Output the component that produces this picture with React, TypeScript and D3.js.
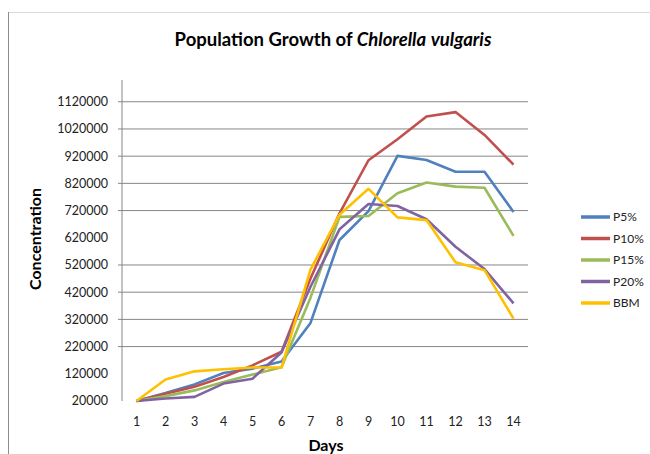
import React from 'react';
import * as d3 from 'd3';

const days = ['1', '2', '3', '4', '5', '6', '7', '8', '9', '10', '11', '12', '13', '14'];
const seriesNames = ['P5%', 'P10%', 'P15%', 'P20%', 'BBM'];
const p5 = [20000, 49000, 81000, 123000, 139000, 165000, 307000, 612000, 718000, 921000, 906000, 863000, 863000, 715000];
const p10 = [20000, 47000, 72000, 108000, 151000, 201000, 470000, 710000, 905000, 982000, 1066000, 1082000, 998000, 889000];
const p15 = [20000, 38000, 59000, 90000, 117000, 144000, 400000, 697000, 700000, 784000, 823000, 808000, 804000, 627000];
const p20 = [20000, 29000, 35000, 84000, 102000, 198000, 440000, 651000, 744000, 737000, 688000, 587000, 505000, 379000];
const bbm = [20000, 99000, 129000, 137000, 143000, 143000, 503000, 705000, 800000, 695000, 685000, 530000, 501000, 323000];
const yTicks = [20000, 120000, 220000, 320000, 420000, 520000, 620000, 720000, 820000, 920000, 1020000, 1120000];
// gridlines that don't show up in the original
const hiddenGrid = [20000, 120000, 620000];
const colors = ['#4F81BD', '#C0504D', '#9BBB59', '#8064A2', '#FFC000'];

const W = 650;
const H = 454;
const plot = { left: 122, right: 528, top: 80, bottom: 401 };
const font = 'Lato, "Open Sans", sans-serif';

export default function App() {
  const allSeries = [p5, p10, p15, p20, bbm];

  const x = d3.scaleBand().domain(days).range([plot.left, plot.right]);
  const y = d3.scaleLinear().domain([20000, 1200000]).range([plot.bottom, plot.top]);

  const line = d3
    .line<number>()
    .x((_d, i) => (x(days[i]) || 0) + x.bandwidth() / 2)
    .y((d) => y(d));

  const legendY = d3.scalePoint().domain(seriesNames).range([217, 303]);

  return (
    <svg
      width={W}
      height={H}
      style={{ position: 'absolute', left: 0, top: 0, background: '#fff' }}
      fontFamily={font}
    >
      {/* chart frame */}
      <line x1={8} x2={W} y1={12.5} y2={12.5} stroke="#d9d9d9" />
      <line x1={8.5} x2={8.5} y1={12} y2={H} stroke="#8c8c8c" />

      <text x={333} y={46} textAnchor="middle" fontSize={18.5} fontWeight="bold" fill="#000">
        Population Growth of <tspan fontStyle="italic">Chlorella</tspan>{' '}
        <tspan fontStyle="italic">vulgaris</tspan>
      </text>

      {/* grid + y axis */}
      {yTicks
        .filter((t) => !hiddenGrid.includes(t))
        .map((t) => (
          <line key={t} x1={118} x2={plot.right} y1={y(t)} y2={y(t)} stroke="#868686" strokeWidth={1} />
        ))}
      <line x1={plot.left} x2={plot.left} y1={plot.top} y2={plot.bottom} stroke="#868686" />
      {yTicks.map((t) => (
        <text key={t} x={108} y={y(t)} dy="0.35em" textAnchor="end" fontSize={12.5} fill="#222">
          {t}
        </text>
      ))}

      {/* x labels */}
      {days.map((d) => (
        <text key={d} x={(x(d) || 0) + x.bandwidth() / 2} y={422} dy="0.35em" textAnchor="middle" fontSize={12.5} fill="#222">
          {d}
        </text>
      ))}

      <text x={326} y={445} dy="0.35em" textAnchor="middle" fontSize={16} fontWeight="bold">
        Days
      </text>
      <text
        transform="translate(35,239) rotate(-90)"
        dy="0.35em"
        textAnchor="middle"
        fontSize={16}
        fontWeight="bold"
      >
        Concentration
      </text>

      {/* series */}
      {allSeries.map((s, i) => (
        <path
          key={seriesNames[i]}
          d={line(s) || ''}
          fill="none"
          stroke={colors[i]}
          strokeWidth={2.6}
          strokeLinejoin="round"
        />
      ))}

      {/* legend */}
      {seriesNames.map((n, i) => (
        <g key={n} transform={`translate(0,${legendY(n)})`}>
          <line x1={581} x2={610} stroke={colors[i]} strokeWidth={3.5} />
          <text x={613} dy="0.35em" fontSize={12} fill="#222">
            {n}
          </text>
        </g>
      ))}
    </svg>
  );
}
